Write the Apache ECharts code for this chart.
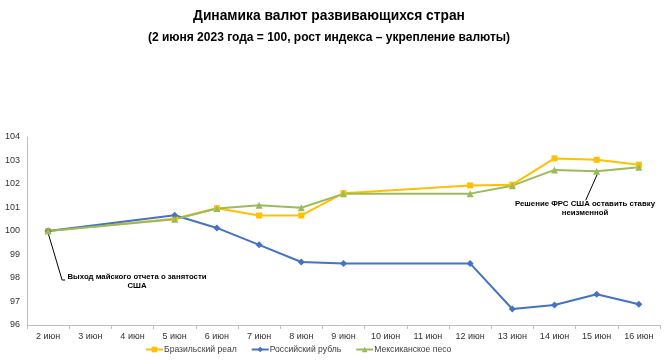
<!DOCTYPE html>
<html><head><meta charset="utf-8">
<script src="https://cdn.jsdelivr.net/npm/echarts@6/dist/echarts.min.js"></script>
<style>html,body{margin:0;padding:0;background:#fff}#c{width:670px;height:360px}</style>
</head><body><div id="c"></div>
<script>
const categories = ['2 июн','3 июн','4 июн','5 июн','6 июн','7 июн','8 июн','9 июн','10 июн','11 июн','12 июн','13 июн','14 июн','15 июн','16 июн'];
const brl = [100, null, null, 100.52, 100.97, 100.66, 100.66, 101.61, null, null, 101.94, 101.97, 103.09, 103.03, 102.82];
const rub = [100, null, null, 100.67, 100.13, 99.41, 98.68, 98.62, null, null, 98.62, 96.68, 96.85, 97.31, 96.88];
const mxn = [100, null, null, 100.50, 100.96, 101.10, 100.99, 101.58, null, null, 101.59, 101.93, 102.60, 102.54, 102.71];
const seriesNames = ['Бразильский реал','Российский рубль','Мексиканское песо'];
const titleLine1 = 'Динамика валют развивающихся стран';
const titleLine2 = '(2 июня 2023 года = 100, рост индекса – укрепление валюты)';
const note1 = 'Выход майского отчета о занятости\nСША';
const note2 = 'Решение ФРС США оставить ставку\nнеизменной';

const chart = echarts.init(document.getElementById('c'));
const font = 'Liberation Sans, Arial, sans-serif';
function mk(name, data, color, symbol, size) {
  return {name, type:'line', data, connectNulls:true, symbol, symbolSize:size,
    lineStyle:{color, width:2}, itemStyle:{color}, animation:false};
}
chart.setOption({
  animation:false,
  textStyle:{fontFamily:font},
  title:{text:'{a|'+titleLine1+'}\n{b|'+titleLine2+'}', left:324, textAlign:'center', top:0,
    textStyle:{rich:{
      a:{fontSize:13.8, fontWeight:'bold', color:'#000', lineHeight:22, fontFamily:font},
      b:{fontSize:12, fontWeight:'bold', color:'#000', lineHeight:22, fontFamily:font}}}},
  grid:{left:27, right:10, top:137, bottom:35},
  legend:{top:340, left:140, itemWidth:17, itemHeight:7, itemGap:14,
    textStyle:{fontSize:8.6, color:'#404040', padding:[0,0,0,-4]}, data:seriesNames},
  xAxis:{type:'category', data:categories, boundaryGap:true,
    axisLine:{lineStyle:{color:'#bfbfbf'}}, axisTick:{show:true, length:4, lineStyle:{color:'#bfbfbf'}},
    axisLabel:{fontSize:9, color:'#333', margin:7}},
  yAxis:{type:'value', min:96, max:104, interval:1,
    axisLine:{show:true, lineStyle:{color:'#bfbfbf'}}, axisTick:{show:false},
    splitLine:{show:false}, axisLabel:{fontSize:9, color:'#333', margin:7}},
  series:[
    mk(seriesNames[0], brl, '#FFC000', 'rect', 6),
    mk(seriesNames[1], rub, '#4472C4', 'diamond', 7),
    mk(seriesNames[2], mxn, '#9BBB59', 'triangle', 7)
  ]
});
const p1 = chart.convertToPixel({gridIndex:0}, ['2 июн', 100]);
const p2 = chart.convertToPixel({gridIndex:0}, ['15 июн', mxn[13]]);
chart.setOption({graphic:[
  {type:'polyline', shape:{points:[[p1[0], p1[1]+2],[p1[0]+14, p1[1]+49],[p1[0]+17, p1[1]+49]]}, style:{stroke:'#000', lineWidth:1, fill:null}},
  {type:'text', x:137, y:272, style:{text:note1, font:'bold 7.8px '+font, fill:'#000', textAlign:'center', lineHeight:9}},
  {type:'polyline', shape:{points:[[p2[0]+1, p2[1]+2],[p2[0]-11, p2[1]+29]]}, style:{stroke:'#000', lineWidth:1, fill:null}},
  {type:'text', x:585, y:199, style:{text:note2, font:'bold 7.8px '+font, fill:'#000', textAlign:'center', lineHeight:9}}
]});
</script></body></html>
